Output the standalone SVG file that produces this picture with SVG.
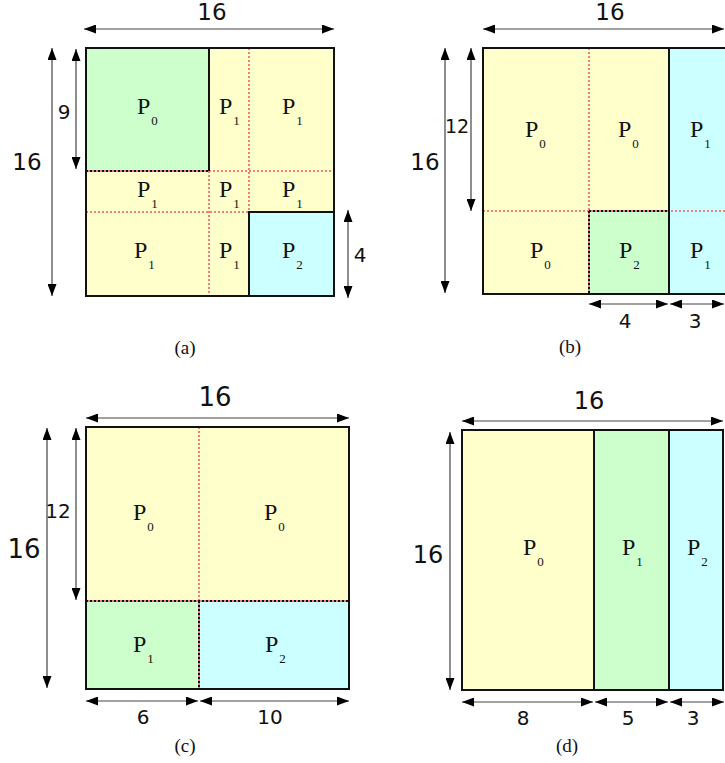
<svg xmlns="http://www.w3.org/2000/svg" width="725" height="763" viewBox="0 0 725 763">
<defs>
<marker id="ah" viewBox="0 0 12 9" markerWidth="12" markerHeight="9" refX="12" refY="4.5" orient="auto-start-reverse" markerUnits="userSpaceOnUse">
<path d="M0,0 L12,4.5 L0,9 z" fill="#000"/>
</marker>
<style>
.y{fill:#ffffcc}
.g{fill:#ccffcc}
.c{fill:#ccffff}
.box{fill:none;stroke:#111;stroke-width:2}
.sol{stroke:#111;stroke-width:2;fill:none}
.rd{stroke:#f08080;stroke-width:2;stroke-dasharray:2 2;fill:none}
.bd{stroke:#111;stroke-width:2;stroke-dasharray:2 2;fill:none}
.rd2{stroke:#f08080;stroke-width:2;fill:none}
.dim{stroke:#444;stroke-width:1.2;fill:none;marker-start:url(#ah);marker-end:url(#ah)}
</style>
</defs>

<!-- Panel (a) -->
<g id="panel-a">
<g font-family="Liberation Serif, Times New Roman, serif" font-size="24" fill="#111">
<g id="a-p0"><rect class="g" x="86" y="48" width="123" height="123"/><text x="137" y="114">P<tspan font-size="13" dx="1" dy="11">0</tspan></text></g>
<g id="a-r1c2"><rect class="y" x="209" y="48" width="40" height="123"/><text x="219" y="114">P<tspan font-size="13" dx="1" dy="11">1</tspan></text></g>
<g id="a-r1c3"><rect class="y" x="249" y="48" width="85" height="123"/><text x="282" y="114">P<tspan font-size="13" dx="1" dy="11">1</tspan></text></g>
<g id="a-r2c1"><rect class="y" x="86" y="171" width="123" height="41"/><text x="137" y="197">P<tspan font-size="13" dx="1" dy="11">1</tspan></text></g>
<g id="a-r2c2"><rect class="y" x="209" y="171" width="40" height="41"/><text x="219" y="197">P<tspan font-size="13" dx="1" dy="11">1</tspan></text></g>
<g id="a-r2c3"><rect class="y" x="249" y="171" width="85" height="41"/><text x="282" y="197">P<tspan font-size="13" dx="1" dy="11">1</tspan></text></g>
<g id="a-r3c1"><rect class="y" x="86" y="212" width="123" height="84"/><text x="134" y="258">P<tspan font-size="13" dx="1" dy="11">1</tspan></text></g>
<g id="a-r3c2"><rect class="y" x="209" y="212" width="40" height="84"/><text x="219" y="258">P<tspan font-size="13" dx="1" dy="11">1</tspan></text></g>
<g id="a-p2"><rect class="c" x="249" y="212" width="85" height="84"/><text x="282" y="258">P<tspan font-size="13" dx="1" dy="11">2</tspan></text></g>
</g>
<path class="rd" d="M249,48 V212 M209,171 V296 M209,171 H334 M86,212 H249"/>
<path class="rd2" d="M86,171 H209"/>
<path class="bd" d="M86,171 H209"/>
<path class="sol" d="M209,48 V171 M249,296 V212 H334"/>
<rect class="box" x="86" y="48" width="248" height="248"/>
<g font-family="DejaVu Sans, sans-serif" fill="#111" text-anchor="middle">
<text x="212" y="20" font-size="23">16</text>
<text x="27" y="170" font-size="23">16</text>
<text x="64" y="119" font-size="20">9</text>
<text x="360" y="262" font-size="20">4</text>
</g>
<text x="185" y="354" font-family="Liberation Serif, serif" font-size="19" fill="#111" text-anchor="middle">(a)</text>
</g>

<!-- Panel (b) -->
<g id="panel-b">
<g font-family="Liberation Serif, Times New Roman, serif" font-size="24" fill="#111">
<g id="b-r1c1"><rect class="y" x="483" y="48" width="106" height="163"/><text x="525" y="137">P<tspan font-size="13" dx="1" dy="11">0</tspan></text></g>
<g id="b-r1c2"><rect class="y" x="589" y="48" width="80" height="163"/><text x="618" y="137">P<tspan font-size="13" dx="1" dy="11">0</tspan></text></g>
<g id="b-r1c3"><rect class="c" x="669" y="48" width="62" height="163"/><text x="690" y="137">P<tspan font-size="13" dx="1" dy="11">1</tspan></text></g>
<g id="b-r2c1"><rect class="y" x="483" y="211" width="106" height="83"/><text x="530" y="258">P<tspan font-size="13" dx="1" dy="11">0</tspan></text></g>
<g id="b-p2"><rect class="g" x="589" y="211" width="80" height="83"/><text x="619" y="258">P<tspan font-size="13" dx="1" dy="11">2</tspan></text></g>
<g id="b-r2c3"><rect class="c" x="669" y="211" width="62" height="83"/><text x="690" y="258">P<tspan font-size="13" dx="1" dy="11">1</tspan></text></g>
</g>
<path class="rd" d="M589,48 V211 M483,211 H731"/>
<path class="rd2" d="M589,211 V294 M589,211 H669"/>
<path class="bd" d="M589,211 V294 M589,211 H669"/>
<path class="sol" d="M669,48 V294"/>
<rect class="box" x="483" y="48" width="248" height="246"/>
<g font-family="DejaVu Sans, sans-serif" fill="#111" text-anchor="middle">
<text x="610" y="20" font-size="23">16</text>
<text x="425" y="170" font-size="23">16</text>
<text x="457" y="133" font-size="19">12</text>
<text x="625" y="328" font-size="20">4</text>
<text x="695" y="328" font-size="20">3</text>
</g>
<text x="570" y="353" font-family="Liberation Serif, serif" font-size="19" fill="#111" text-anchor="middle">(b)</text>
</g>

<!-- Panel (c) -->
<g id="panel-c">
<g font-family="Liberation Serif, Times New Roman, serif" font-size="24" fill="#111">
<g id="c-r1c1"><rect class="y" x="86" y="427" width="113" height="174"/><text x="133" y="520">P<tspan font-size="13" dx="1" dy="11">0</tspan></text></g>
<g id="c-r1c2"><rect class="y" x="199" y="427" width="150" height="174"/><text x="264" y="520">P<tspan font-size="13" dx="1" dy="11">0</tspan></text></g>
<g id="c-p1"><rect class="g" x="86" y="601" width="113" height="88"/><text x="133" y="652">P<tspan font-size="13" dx="1" dy="11">1</tspan></text></g>
<g id="c-p2"><rect class="c" x="199" y="601" width="150" height="88"/><text x="265" y="652">P<tspan font-size="13" dx="1" dy="11">2</tspan></text></g>
</g>
<path class="rd" d="M199,427 V601"/>
<path class="rd2" d="M86,601 H349 M199,601 V689"/>
<path class="bd" d="M86,601 H349 M199,601 V689"/>
<rect class="box" x="86" y="427" width="263" height="262"/>
<g font-family="DejaVu Sans, sans-serif" fill="#111" text-anchor="middle">
<text x="215" y="406" font-size="26">16</text>
<text x="24" y="558" font-size="26">16</text>
<text x="58" y="518" font-size="20">12</text>
<text x="143" y="724" font-size="20">6</text>
<text x="270" y="724" font-size="20">10</text>
</g>
<text x="185" y="752" font-family="Liberation Serif, serif" font-size="19" fill="#111" text-anchor="middle">(c)</text>
</g>

<!-- Panel (d) -->
<g id="panel-d">
<g font-family="Liberation Serif, Times New Roman, serif" font-size="24" fill="#111">
<g id="d-p0"><rect class="y" x="462" y="430" width="132" height="260"/><text x="523" y="555">P<tspan font-size="13" dx="1" dy="11">0</tspan></text></g>
<g id="d-p1"><rect class="g" x="594" y="430" width="75" height="260"/><text x="622" y="555">P<tspan font-size="13" dx="1" dy="11">1</tspan></text></g>
<g id="d-p2"><rect class="c" x="669" y="430" width="54" height="260"/><text x="687" y="555">P<tspan font-size="13" dx="1" dy="11">2</tspan></text></g>
</g>
<path class="sol" d="M594,430 V690 M669,430 V690"/>
<rect class="box" x="462" y="430" width="261" height="260"/>
<g font-family="DejaVu Sans, sans-serif" fill="#111" text-anchor="middle">
<text x="589" y="409" font-size="24">16</text>
<text x="428" y="563" font-size="24">16</text>
<text x="523" y="725" font-size="20">8</text>
<text x="628" y="725" font-size="20">5</text>
<text x="693" y="725" font-size="20">3</text>
</g>
<text x="567" y="752" font-family="Liberation Serif, serif" font-size="19" fill="#111" text-anchor="middle">(d)</text>
</g>

<!-- Connectors: dimension arrows -->
<g id="connectors">
<line class="dim" x1="84" y1="29" x2="334" y2="29"/>
<line class="dim" x1="52" y1="48" x2="52" y2="296"/>
<line class="dim" x1="76" y1="49" x2="76" y2="169"/>
<line class="dim" x1="348" y1="210" x2="348" y2="298"/>
<line class="dim" x1="483" y1="29" x2="724" y2="29"/>
<line class="dim" x1="445" y1="48" x2="445" y2="293"/>
<line class="dim" x1="471" y1="48" x2="471" y2="211"/>
<line class="dim" x1="589" y1="304" x2="668" y2="304"/>
<line class="dim" x1="670" y1="304" x2="724" y2="304"/>
<line class="dim" x1="86" y1="418" x2="349" y2="418"/>
<line class="dim" x1="47" y1="428" x2="47" y2="688"/>
<line class="dim" x1="76" y1="428" x2="76" y2="600"/>
<line class="dim" x1="86" y1="701" x2="198" y2="701"/>
<line class="dim" x1="200" y1="701" x2="349" y2="701"/>
<line class="dim" x1="462" y1="421" x2="723" y2="421"/>
<line class="dim" x1="450" y1="432" x2="450" y2="690"/>
<line class="dim" x1="462" y1="702" x2="593" y2="702"/>
<line class="dim" x1="595" y1="702" x2="668" y2="702"/>
<line class="dim" x1="670" y1="702" x2="724" y2="702"/>
</g>
</svg>
